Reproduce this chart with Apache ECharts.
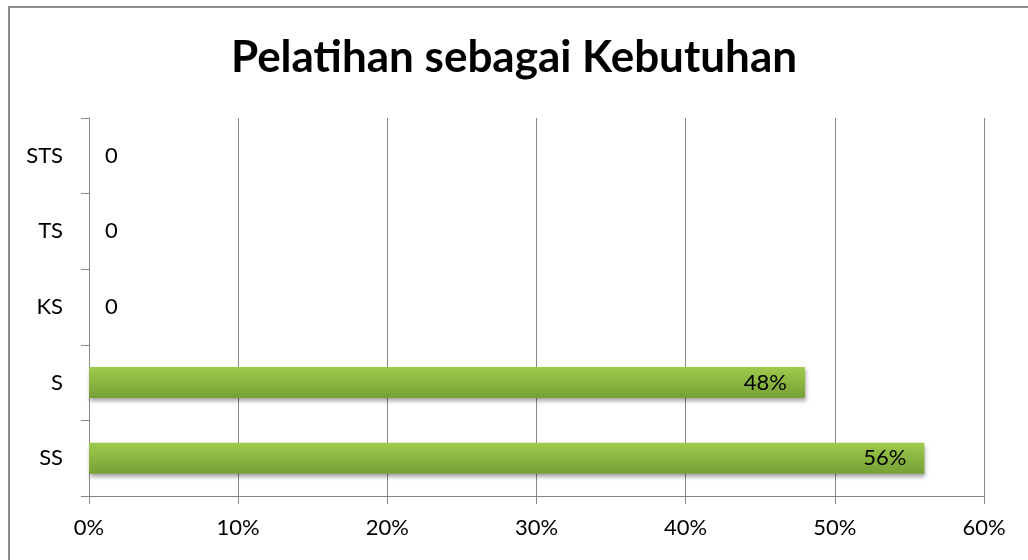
<!DOCTYPE html>
<html>
<head>
<meta charset="utf-8">
<script src="https://cdn.jsdelivr.net/npm/echarts@6/dist/echarts.min.js"></script>
<style>
  html, body { margin: 0; padding: 0; background: #fff; overflow: hidden; }
  #frame {
    position: absolute; left: 8px; top: 6px;
    width: 1040px; height: 580px;
    border: 2px solid #8c8c8c;
  }
  #chart { position: absolute; left: 0; top: 0; width: 1028px; height: 560px; }
</style>
</head>
<body>
<div id="frame"></div>
<div id="chart"></div>
<script>
// categories listed bottom to top
var categories = ['SS', 'S', 'KS', 'TS', 'STS']
var percentValues = [56, 48, 0, 0, 0]
var xTicks = [0, 10, 20, 30, 40, 50, 60]

var chart = echarts.init(document.getElementById('chart'))
var textFont = 'Lato, "Open Sans", sans-serif'

chart.setOption({
  animation: false,
  title: {
    text: 'Pelatihan sebagai Kebutuhan',
    left: 'center',
    top: 31,
    textStyle: {
      fontFamily: textFont,
      fontWeight: 'bold',
      fontSize: 44,
      color: '#000'
    }
  },
  grid: {
    left: 89,
    right: 44,
    top: 118,
    bottom: 64,
    containLabel: false
  },
  xAxis: {
    type: 'value',
    min: xTicks[0],
    max: xTicks[xTicks.length - 1],
    interval: 10,
    axisLine: { show: true, lineStyle: { color: '#868686', width: 1 } },
    axisTick: { show: true, length: 8, lineStyle: { color: '#868686' } },
    splitLine: { show: true, lineStyle: { color: '#868686', width: 1 } },
    axisLabel: {
      margin: 21,
      fontFamily: textFont,
      fontSize: 22,
      color: '#000',
      formatter: function (v) { return v + '%' }
    }
  },
  yAxis: {
    type: 'category',
    data: categories,
    axisLine: { show: true, lineStyle: { color: '#868686', width: 1 } },
    axisTick: { show: true, length: 8, alignWithLabel: false, lineStyle: { color: '#868686' } },
    axisLabel: {
      margin: 26,
      fontFamily: textFont,
      fontSize: 22,
      color: '#000'
    }
  },
  series: [{
    type: 'bar',
    barWidth: 31,
    itemStyle: {
      color: new echarts.graphic.LinearGradient(0, 0, 0, 1, [
        { offset: 0, color: '#9fca4c' },
        { offset: 1, color: '#76a035' }
      ]),
      shadowColor: 'rgba(0,0,0,0.35)',
      shadowBlur: 4,
      shadowOffsetX: 1,
      shadowOffsetY: 3
    },
    data: percentValues.map(function (v) {
      return {
        value: v,
        label: v === 0
          ? { position: 'right', distance: 16 }
          : { position: 'insideRight', distance: 18 }
      }
    }),
    label: {
      show: true,
      fontFamily: textFont,
      fontSize: 22,
      color: '#000',
      formatter: function (p) { return p.value === 0 ? '0' : p.value + '%' }
    }
  }]
})
</script>
</body>
</html>
